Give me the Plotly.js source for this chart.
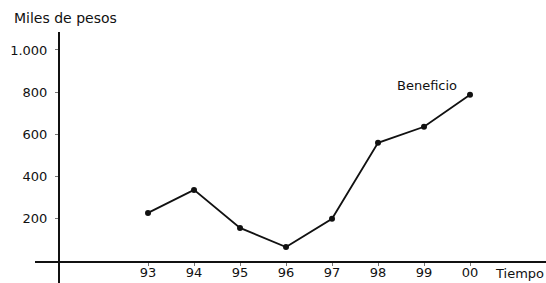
<!DOCTYPE html>
<html>
<head>
<meta charset="utf-8">
<script src="https://cdn.plot.ly/plotly-3.0.1.min.js"></script>
<style>html,body{margin:0;padding:0;background:#fff;}#chart{width:546px;height:283px;}</style>
</head>
<body>
<div id="chart"></div>
<script>
var years = [93, 94, 95, 96, 97, 98, 99, 100];
var yearLabels = ["93", "94", "95", "96", "97", "98", "99", "00"];
var beneficio = [228, 337, 157, 66, 200, 560, 636, 788];
var yTickVals = [200, 400, 600, 800, 1000];
var yTickText = ["200", "400", "600", "800", "1.000"];

var W = 546, H = 283;
var fontFam = "DejaVu Sans, Arial, sans-serif";
var ink = "#111";

var trace = {
  x: years, y: beneficio, type: "scatter", mode: "lines+markers",
  line: {color: ink, width: 1.8},
  marker: {color: ink, size: 6},
  hoverinfo: "skip", cliponaxis: false
};

var layout = {
  width: W, height: H,
  margin: {l: 0, r: 0, t: 0, b: 0},
  paper_bgcolor: "#fff", plot_bgcolor: "#fff",
  showlegend: false,
  font: {family: fontFam, size: 13, color: ink},
  xaxis: {
    domain: [35 / W, 1],
    range: [90.543, 101.652],
    anchor: "free", position: 1 - 261 / H,
    showgrid: false, zeroline: false,
    showline: true, linecolor: ink, linewidth: 1.5,
    ticks: "outside", ticklen: 3, tickcolor: "#777", tickwidth: 1,
    tickvals: years, ticktext: yearLabels,
    ticklabelstandoff: -4,
    tickfont: {family: fontFam, size: 13, color: ink}
  },
  yaxis: {
    domain: [0, 1 - 32 / H],
    range: [-104, 1085],
    anchor: "free", position: 58 / W,
    showgrid: false, zeroline: false,
    showline: true, linecolor: ink, linewidth: 1.5,
    ticks: "outside", ticklen: 3, tickcolor: "#777", tickwidth: 1,
    tickvals: yTickVals, ticktext: yTickText,
    ticklabelstandoff: 5,
    tickfont: {family: fontFam, size: 13, color: ink}
  },
  annotations: [
    {text: "Miles de pesos", xref: "paper", yref: "paper", x: 12 / W, y: 1 - 18 / H,
     xanchor: "left", yanchor: "middle", showarrow: false, font: {family: fontFam, size: 14, color: ink}},
    {text: "Beneficio", xref: "paper", yref: "paper", x: 427 / W, y: 1 - 85 / H,
     xanchor: "center", yanchor: "middle", showarrow: false, font: {family: fontFam, size: 13, color: ink}},
    {text: "Tiempo", xref: "paper", yref: "paper", x: 493 / W, y: 1 - 273 / H,
     xanchor: "left", yanchor: "middle", showarrow: false, font: {family: fontFam, size: 13, color: ink}}
  ]
};

Plotly.newPlot("chart", [trace], layout, {staticPlot: true, displayModeBar: false});
</script>
</body>
</html>
